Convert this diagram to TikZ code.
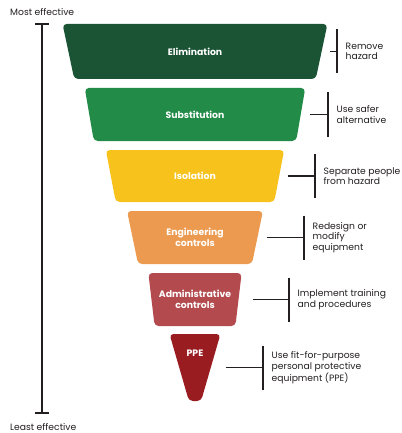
\documentclass[tikz,border=0pt]{standalone}
\usepackage{fontspec}
\setmainfont{Poppins}
\usepackage{xcolor}
\usetikzlibrary{shapes.geometric,positioning,calc}
\definecolor{elimgreen}{HTML}{1A5434}
\definecolor{substgreen}{HTML}{218B47}
\definecolor{isolyellow}{HTML}{F8C21C}
\definecolor{engorange}{HTML}{EC9A4F}
\definecolor{adminred}{HTML}{B24A4E}
\definecolor{ppered}{HTML}{991C21}
\definecolor{notegray}{HTML}{231F20}
\tikzstyle{tier} = [trapezium, trapezium stretches, shape border rotate=180, rounded corners=4pt, inner sep=1pt, text=white, align=center, font=\fontsize{9.3}{10.5}\selectfont\bfseries]
\tikzstyle{note} = [anchor=west, align=left, inner sep=0pt, text=notegray, font=\fontsize{9.2}{10.5}\selectfont]
\tikzstyle{bar} = [line width=1.1pt, notegray]

\begin{document}
\begin{tikzpicture}[x=1pt,y=-1pt]
\useasboundingbox (0,0) rectangle (401,433);

% scale on the left
\coordinate (most top) at (42,24);
\coordinate (least bot) at (42,413);
\draw[bar] (most top) -- (least bot);
\draw[bar] ([xshift=-7pt]most top) -- ([xshift=7pt]most top);
\draw[bar] ([xshift=-7pt]least bot) -- ([xshift=7pt]least bot);
\node[note] (most) at (10,12) {Most effective};
\node[note] (least) at (10,427) {Least effective};

% the tiers
\foreach \n/\c/\y/\w/\h/\a/\t in {
  elim/elimgreen/51.5/266/55/74/Elimination,
  subst/substgreen/114.5/222/53/74/Substitution,
  isol/isolyellow/176/179/52/74/Isolation,
  eng/engorange/237.5/136/53/74/{Engineering\\controls},
  admin/adminred/299.5/94/53/74/{Administrative\\controls},
  ppe/ppered/367.5/51/67/69.5/{\vphantom{P}}} {
\node[tier, fill=\c, minimum width=\w pt, minimum height=\h pt,
  trapezium left angle=\a, trapezium right angle=\a] (\n) at (195,\y) {\t}; }
\node[tier] (ppe text) at ([yshift=14.5pt]ppe.center) {PPE};

% notes on the right
\foreach \n/\g/\bx/\t in {
  elim/8/337/{Remove\\hazard},
  subst/9.5/328/{Use safer\\alternative},
  isol/9/315/{Separate people\\from hazard},
  eng/9/304/{Redesign or\\modify\\equipment},
  admin/14.5/289/{Implement training\\and procedures},
  ppe/15/263/{Use fit-for-purpose\\personal protective\\equipment (PPE)}} {
\coordinate (\n x) at (\bx,0);
\coordinate (\n bar) at (\n x |- \n.east);
\draw[bar] ([xshift=\g pt]\n.east) -- (\n bar);
\draw[bar] ([yshift=22pt]\n bar) -- ([yshift=-22pt]\n bar);
\node[note] (\n note) at ([xshift=8.5pt]\n bar) {\t}; }

\end{tikzpicture}
\end{document}
